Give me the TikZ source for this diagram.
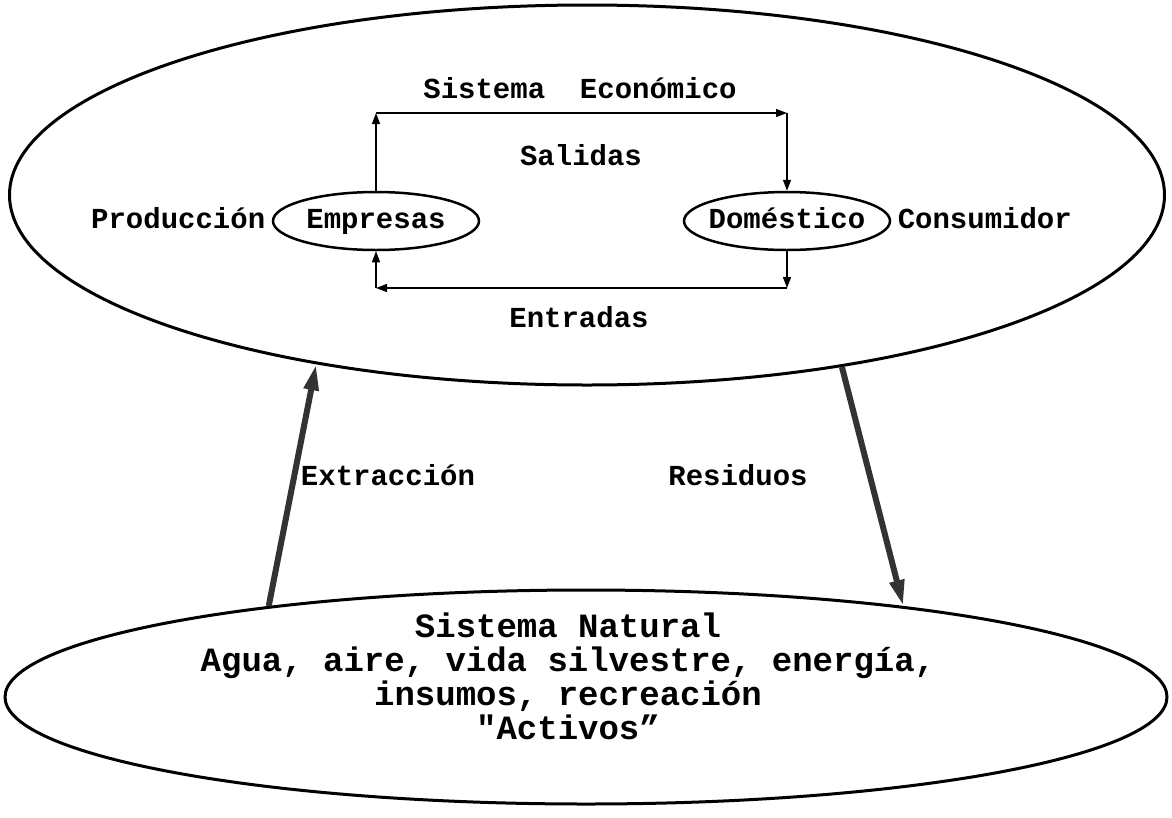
\documentclass[tikz,border=0pt]{standalone}
\usepackage{fontspec}
\setmainfont{Liberation Mono}[Ligatures=TeXOff]
\usetikzlibrary{arrows.meta,positioning,shapes.geometric}

\begin{document}
\begin{tikzpicture}[x=1pt,y=-1pt,
  font=\bfseries\fontsize{29}{34}\selectfont,
  rotulo/.style={text height=20pt,text depth=6pt},
  oval/.style={draw,ellipse,inner sep=0pt},
  flujo/.style={line width=1.4pt,-{Triangle[length=11pt,width=8pt]}},
  gruesa/.style={line width=6pt,black!80,-{Triangle[length=26pt,width=14pt]}}]
\useasboundingbox (0,0) rectangle (1172,817);
\node[oval,line width=3pt,minimum width=1155pt,minimum height=380pt] (SE) at (587,195) {};
\node[oval,line width=3pt,minimum width=1162pt,minimum height=214pt] (SN) at (586,697) {};
\node[oval,rotulo,line width=2.5pt,inner xsep=-10pt,minimum width=206pt,minimum height=58pt] (EMP) at (376,221) {Empresas};
\node[oval,rotulo,line width=2.5pt,inner xsep=-10pt,minimum width=206pt,minimum height=58pt] (DOM) at (787,221) {Doméstico};
\node[rotulo,left=3pt of EMP] (PROD) {Producción};
\node[rotulo,right=3pt of DOM] (CONS) {Consumidor};
\node[rotulo] (TIT) at (580,91) {Sistema\ \ Económico};
\node[rotulo] (SAL) at (581,158) {Salidas};
\node[rotulo] (ENT) at (579,320) {Entradas};
\node[rotulo] (EXT) at (388,478) {Extracción};
\node[rotulo] (RES) at (738,478) {Residuos};
\node[align=center,font=\bfseries\fontsize{34}{34}\selectfont] (ACT) at (568,676)
  {Sistema Natural\\Agua, aire, vida silvestre, energía,\\insumos, recreación\\"Activos”};
% circuito economico
\coordinate (TL) at (EMP.north |- 0,113);
\coordinate (TR) at (DOM.north |- 0,113);
\coordinate (BL) at (EMP.south |- 0,288);
\coordinate (BR) at (DOM.south |- 0,288);
\draw[flujo] (EMP.north) -- (TL);
\draw[flujo] (TL) -- (TR);
\draw[flujo] (TR) -- (DOM.north);
\draw[flujo] (DOM.south) -- (BR);
\draw[flujo] (BR) -- (BL);
\draw[flujo] (BL) -- (EMP.south);
% intercambio con el sistema natural
\draw[gruesa] (SN.164) -- (SE.212);
\draw[gruesa] (SE.326) -- (SN.16);
\end{tikzpicture}
\end{document}
